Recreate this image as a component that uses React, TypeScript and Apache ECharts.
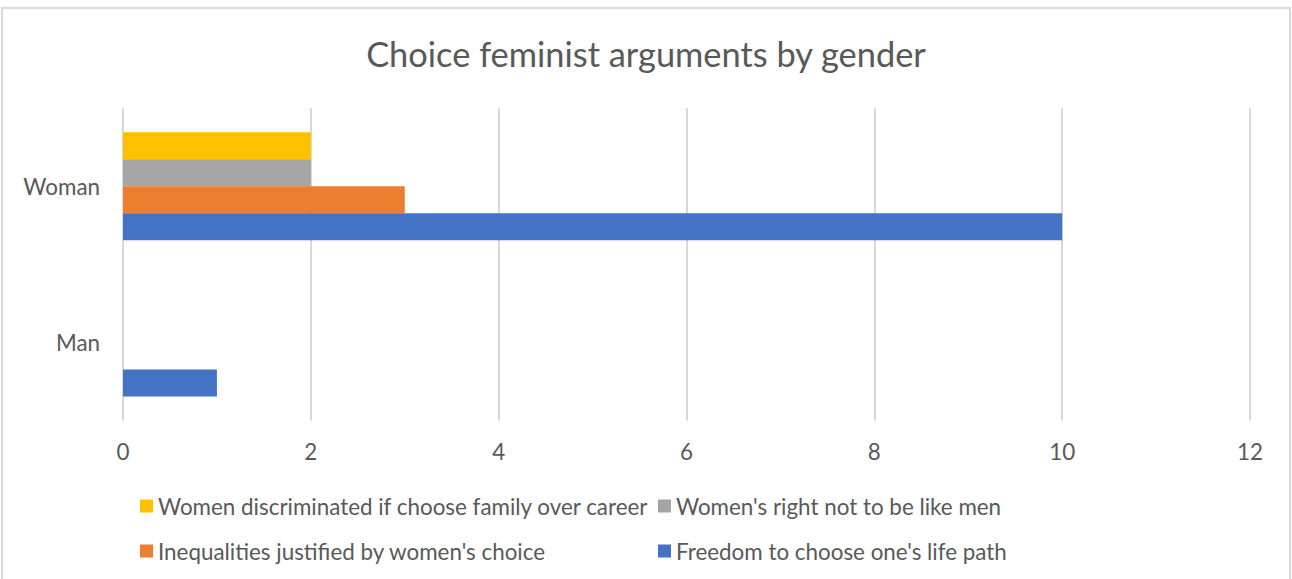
import React, { useEffect, useRef } from "react";
import * as echarts from "echarts";

const categories = ["Man", "Woman"];
const seriesNames = [
  "Women discriminated if choose family over career",
  "Women's right not to be like men",
  "Inequalities justified by women's choice",
  "Freedom to choose one's life path",
];
const discriminatedValues = [0, 2];
const rightNotLikeMenValues = [0, 2];
const inequalitiesValues = [0, 3];
const freedomValues = [1, 10];
const seriesColors = ["#FFC000", "#A5A5A5", "#ED7D31", "#4472C4"];
const xTicks = { min: 0, max: 12, interval: 2 };

const FONT = "Lato";
const TEXT = "#595959";

export default function App() {
  const ref = useRef<HTMLDivElement>(null);
  useEffect(() => {
    if (!ref.current) return;
    const chart = echarts.init(ref.current, null, { renderer: "svg" });
    const values = [discriminatedValues, rightNotLikeMenValues, inequalitiesValues, freedomValues];
    const legendPos = [
      { left: 140, top: 494 },
      { left: 658, top: 494 },
      { left: 140, top: 539 },
      { left: 658, top: 539 },
    ];
    chart.setOption({
      animation: false,
      backgroundColor: "#ffffff",
      title: {
        text: "Choice feminist arguments by gender",
        left: "center",
        top: 33,
        padding: 0,
        textStyle: { fontFamily: FONT, fontSize: 34.4, fontWeight: "normal", color: TEXT, lineHeight: 40 },
      },
      graphic: [
        {
          type: "rect",
          shape: { x: 2, y: 8, width: 1288, height: 620 },
          style: { fill: "none", stroke: "#D9D9D9", lineWidth: 2 },
          silent: true,
        },
      ],
      legend: seriesNames.map((name, i) => ({
        data: [name],
        left: legendPos[i].left,
        top: legendPos[i].top,
        padding: 0,
        itemWidth: 13,
        itemHeight: 13,
        itemGap: 0,
        icon: "rect",
        selectedMode: false,
        textStyle: { fontFamily: FONT, fontSize: 22.4, color: TEXT, lineHeight: 24 },
      })),
      grid: { left: 123, right: 42, top: 108, bottom: 158.5, containLabel: false },
      xAxis: {
        type: "value",
        min: xTicks.min,
        max: xTicks.max,
        interval: xTicks.interval,
        axisLine: { show: false },
        axisTick: { show: false },
        splitLine: { show: true, lineStyle: { color: "#D9D9D9", width: 2 } },
        axisLabel: { fontFamily: FONT, fontSize: 22.4, color: TEXT, margin: 20 },
      },
      yAxis: {
        type: "category",
        data: categories,
        axisLine: { show: false },
        axisTick: { show: false },
        axisLabel: { fontFamily: FONT, fontSize: 22.4, color: TEXT, margin: 23 },
      },
      series: seriesNames.map((name, i) => ({
        name,
        type: "bar",
        data: values[i],
        barWidth: 27,
        barGap: "0%",
        itemStyle: { color: seriesColors[i] },
      })),
    });
    return () => chart.dispose();
  }, []);
  return (
    <div
      ref={ref}
      style={{ position: "fixed", left: 0, top: 0, width: 1292, height: 579 }}
    />
  );
}
